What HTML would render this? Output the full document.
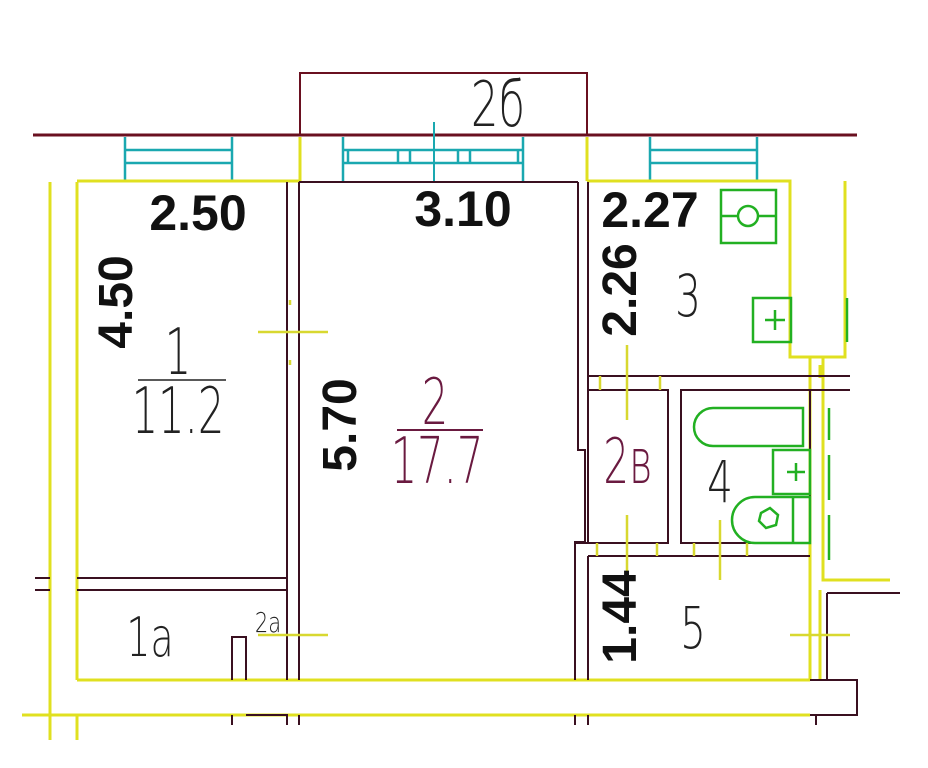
<!DOCTYPE html>
<html><head><meta charset="utf-8"><style>
html,body{margin:0;padding:0;background:#fff;width:928px;height:768px;overflow:hidden}
svg{display:block}
.b{font-family:"Liberation Sans",sans-serif;font-weight:bold;fill:#111}
.t{font-family:"DejaVu Sans ExtraLight","DejaVu Sans Light","Liberation Sans",sans-serif;font-weight:200}
</style></head><body>
<svg width="928" height="768" viewBox="0 0 928 768" xmlns="http://www.w3.org/2000/svg">
<rect width="928" height="768" fill="#fff"/>
<path d="M300 135 V73 H587 V135" fill="none" stroke="#6a1020" stroke-width="2"/>
<line x1="33" y1="135" x2="857" y2="135" stroke="#6a1020" stroke-width="3"/>
<line x1="434" y1="122" x2="434" y2="182" stroke="#1aa8b0" stroke-width="2"/>
<g stroke="#1aa8b0" stroke-width="2.5" fill="none">
<path d="M125 137V181M232 137V181M125 150H232M125 163H232"/>
<path d="M343 137V181M523 137V181M343 150H523M343 163H523M348 150V163M398 150V163M410 150V163M458 150V163M470 150V163M518 150V163"/>
<path d="M650 137V181M757 137V181M650 150H757M650 163H757"/>
</g>
<g stroke="#e0e020" stroke-width="3" fill="none">
<path d="M50 182V740"/>
<path d="M77 182V680"/>
<path d="M77 181H300"/>
<path d="M300 137V181M587 137V181"/>
<path d="M587 181H790V357H845V181"/>
<path d="M810 357V680M823 357V580H890"/>
<path d="M77 680H810"/>
<path d="M22 715H810"/>
<path d="M77 715V740"/>
<path d="M820 365V378M820 590V680"/>
</g>
<g stroke="#3a1020" stroke-width="2" fill="none">
<path d="M299 182H578"/>
<path d="M287 182V680M299 182V680"/>
<path d="M77 578H287M35 578H50M35 590H50M77 590H287"/>
<path d="M578 182V450H585V542H575V680"/>
<path d="M588 182V376H850M588 390V376"/>
<path d="M588 390H668V543H588Z"/>
<path d="M681 390H810V543H681Z"/>
<path d="M810 390H850"/>
<path d="M575 543H588"/>
<path d="M588 556H810M588 556V680"/>
<path d="M827 593H900M827 593V680"/>
<path d="M810 680H857V715H810"/>
<path d="M232 680V637H246V680"/>
<path d="M232 715V725M246 715H287V725M299 715V725M575 715V725M588 715V725M816 715V725"/>
</g>
<g stroke="#d8d830" stroke-width="2.5" fill="none">
<path d="M258 332H328M290 300V305M290 360V365"/>
<path d="M258 635H328"/>
<path d="M627 345V420M627 515V590"/>
<path d="M720 520V580"/>
<path d="M790 635H850"/>
<path d="M600 376V390M660 376V390M597 543V556M657 543V556M694 543V556M747 543V556"/>
</g>
<g stroke="#22b022" stroke-width="2.5" fill="none">
<rect x="721" y="190" width="55" height="53"/>
<path d="M721 216H776"/><circle cx="748" cy="216" r="10" fill="#fff"/>
<rect x="753" y="298" width="38" height="44"/>
<path d="M765 320H785M775 310V330"/>
<path d="M847 298V342"/>
<path d="M713 408H803V446H713A19 19 0 0 1 713 408Z"/>
<rect x="773" y="450" width="37" height="44"/>
<path d="M787 472H805M796 463V481"/>
<path d="M755 497H810V543H755A23 23 0 0 1 755 497Z"/>
<path d="M793 497V543"/>
<path d="M761 513L770 508L778 515L776 525L766 528L759 521Z"/>
<path d="M829 408V440M829 455V500M829 515V560"/>
</g>
<text transform="translate(498,126) scale(0.7,1)" class="t" font-size="62" fill="#222" text-anchor="middle">2б</text>
<text x="198" y="230" class="b" font-size="50" text-anchor="middle">2.50</text>
<text x="463" y="226" class="b" font-size="50" text-anchor="middle">3.10</text>
<text x="650" y="227" class="b" font-size="50" text-anchor="middle">2.27</text>
<text transform="translate(132,302) rotate(-90)" class="b" font-size="48" text-anchor="middle">4.50</text>
<text transform="translate(356,425) rotate(-90)" class="b" font-size="48" text-anchor="middle">5.70</text>
<text transform="translate(636,290) rotate(-90)" class="b" font-size="48" text-anchor="middle">2.26</text>
<text transform="translate(636,617) rotate(-90)" class="b" font-size="48" text-anchor="middle">1.44</text>
<text transform="translate(178,374) scale(0.65,1)" class="t" font-size="64" fill="#222" text-anchor="middle">1</text>
<line x1="138" y1="380" x2="226" y2="380" stroke="#222" stroke-width="1.5"/>
<text transform="translate(178,433) scale(0.65,1)" class="t" font-size="64" fill="#222" text-anchor="middle">11.2</text>
<text transform="translate(435,424) scale(0.65,1)" class="t" font-size="64" fill="#6a1a40" text-anchor="middle">2</text>
<line x1="397" y1="430" x2="483" y2="430" stroke="#6a1a40" stroke-width="2"/>
<text transform="translate(437,483) scale(0.65,1)" class="t" font-size="64" fill="#6a1a40" text-anchor="middle">17.7</text>
<text transform="translate(688,316) scale(0.7,1)" class="t" font-size="58" fill="#222" text-anchor="middle">3</text>
<text transform="translate(628,483) scale(0.65,1)" class="t" font-size="62" fill="#6a1a40" text-anchor="middle">2в</text>
<text transform="translate(720,502) scale(0.7,1)" class="t" font-size="58" fill="#222" text-anchor="middle">4</text>
<text transform="translate(693,648) scale(0.7,1)" class="t" font-size="58" fill="#222" text-anchor="middle">5</text>
<text transform="translate(150,656) scale(0.7,1)" class="t" font-size="54" fill="#222" text-anchor="middle">1a</text>
<text transform="translate(268,632) scale(0.75,1)" class="t" font-size="28" fill="#222" text-anchor="middle">2a</text>
</svg>
</body></html>
